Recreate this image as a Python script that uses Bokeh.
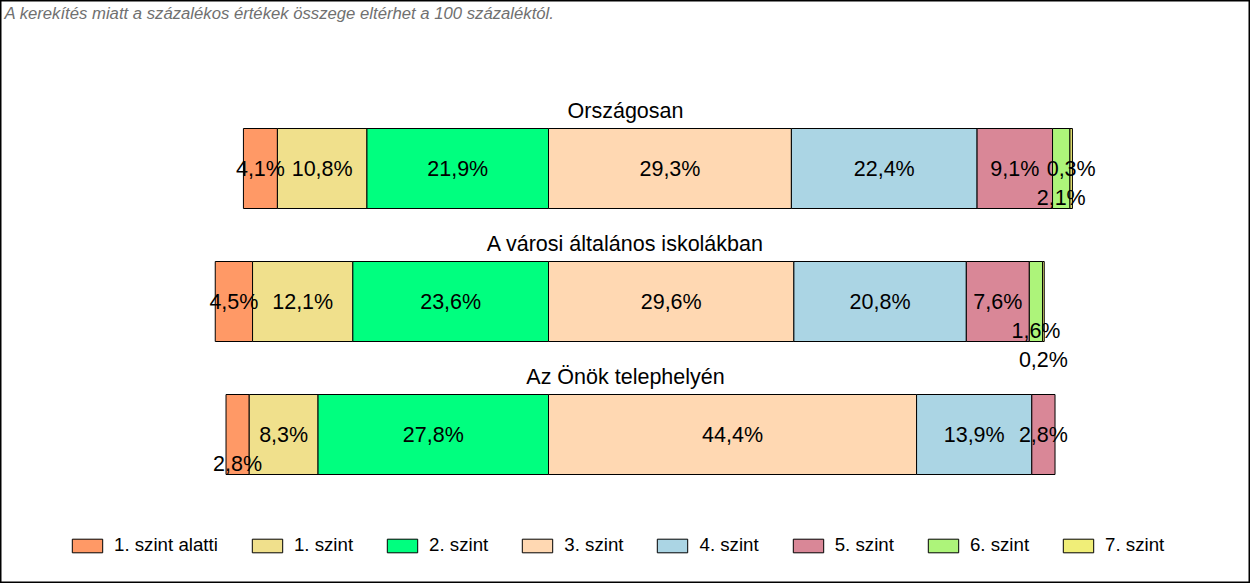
from bokeh.plotting import figure
from bokeh.models import Range1d, ColumnDataSource, Label, Legend, LegendItem
from bokeh.core.properties import value
from bokeh.embed import file_html
from bokeh.resources import INLINE

levels = ["1. szint alatti", "1. szint", "2. szint", "3. szint",
          "4. szint", "5. szint", "6. szint", "7. szint"]
groups = ["Országosan", "A városi általános iskolákban", "Az Önök telephelyén"]
orszagosan = [4.1, 10.8, 21.9, 29.3, 22.4, 9.1, 2.1, 0.3]
varosi = [4.5, 12.1, 23.6, 29.6, 20.8, 7.6, 1.6, 0.2]
telephely = [2.8, 8.3, 27.8, 44.4, 13.9, 2.8, 0.0, 0.0]
note = "A kerekítés miatt a  százalékos értékek összege eltérhet a 100 százaléktól."

colors = ["#FF9966", "#F0E08C", "#00FF7F", "#FFD8B2",
          "#ABD5E4", "#D98797", "#ADF47A", "#F0EE78"]
# label rows shifted downward to avoid overlap (group index, level index): rows
label_shift = {(0, 6): 1, (1, 6): 1, (1, 7): 2, (2, 0): 1}

W, H = 1250, 583
PX = 8.29          # pixels per percent
ZERO = 548         # pixel position of the 2./3. szint boundary
p = figure(width=W, height=H, output_backend="svg", toolbar_location=None,
           x_range=Range1d(-ZERO / PX, (W - ZERO) / PX), y_range=Range1d(H, 0),
           min_border=0, min_border_left=0, min_border_right=0,
           min_border_top=0, min_border_bottom=0)
p.axis.visible = False
p.grid.visible = False
p.outline_line_color = "black"
p.outline_line_width = 2
p.background_fill_color = "white"

data = [orszagosan, varosi, telephely]
centers = [168 + 133 * i for i in range(len(groups))]
bar_h = 80

lefts = []
rights = []
for vals in data:
    start = -(vals[0] + vals[1] + vals[2])
    l, r = [], []
    cur = start
    for v in vals:
        l.append(cur)
        r.append(cur + v)
        cur += v
    lefts.append(l)
    rights.append(r)

items = []
for j, lev in enumerate(levels):
    src = ColumnDataSource(dict(
        y=[centers[i] for i in range(len(groups)) if data[i][j] > 0],
        left=[lefts[i][j] for i in range(len(groups)) if data[i][j] > 0],
        right=[rights[i][j] for i in range(len(groups)) if data[i][j] > 0],
    ))
    r = p.hbar(y="y", left="left", right="right", height=bar_h, source=src,
               fill_color=colors[j], line_color="black", line_width=1)
    items.append(LegendItem(label=lev, renderers=[r]))

tx, ty, tt = [], [], []
for i in range(len(groups)):
    for j in range(len(levels)):
        v = data[i][j]
        if v <= 0:
            continue
        tx.append((lefts[i][j] + rights[i][j]) / 2)
        ty.append(centers[i] + 29 * label_shift.get((i, j), 0))
        tt.append(f"{v:.1f}%".replace(".", ","))
p.text(x=tx, y=ty, text=tt, text_align="center", text_baseline="middle",
       text_font=value("Liberation Sans"), text_font_size="21.5px", text_color="black")

mid_x = (-ZERO / PX + (W - ZERO) / PX) / 2
p.text(x=[mid_x] * len(groups), y=[c - bar_h / 2 - 18 for c in centers], text=groups,
       text_align="center", text_baseline="middle",
       text_font=value("Liberation Sans"), text_font_size="21.5px", text_color="black")

p.add_layout(Label(x=4, y=H - 13, x_units="screen", y_units="screen", text=note,
                   text_font="Liberation Sans", text_font_size="16.7px",
                   text_font_style="italic", text_color="#707070",
                   text_baseline="middle"))

legend = Legend(items=items, orientation="horizontal", location=(68, 27),
                glyph_width=38, glyph_height=17, label_height=17,
                label_standoff=8, spacing=30, padding=0, margin=0,
                label_text_font="Liberation Sans", label_text_font_size="18.7px",
                label_text_color="black", border_line_alpha=0,
                background_fill_alpha=0)
p.add_layout(legend)

open("out.html", "w").write(file_html(p, INLINE))
